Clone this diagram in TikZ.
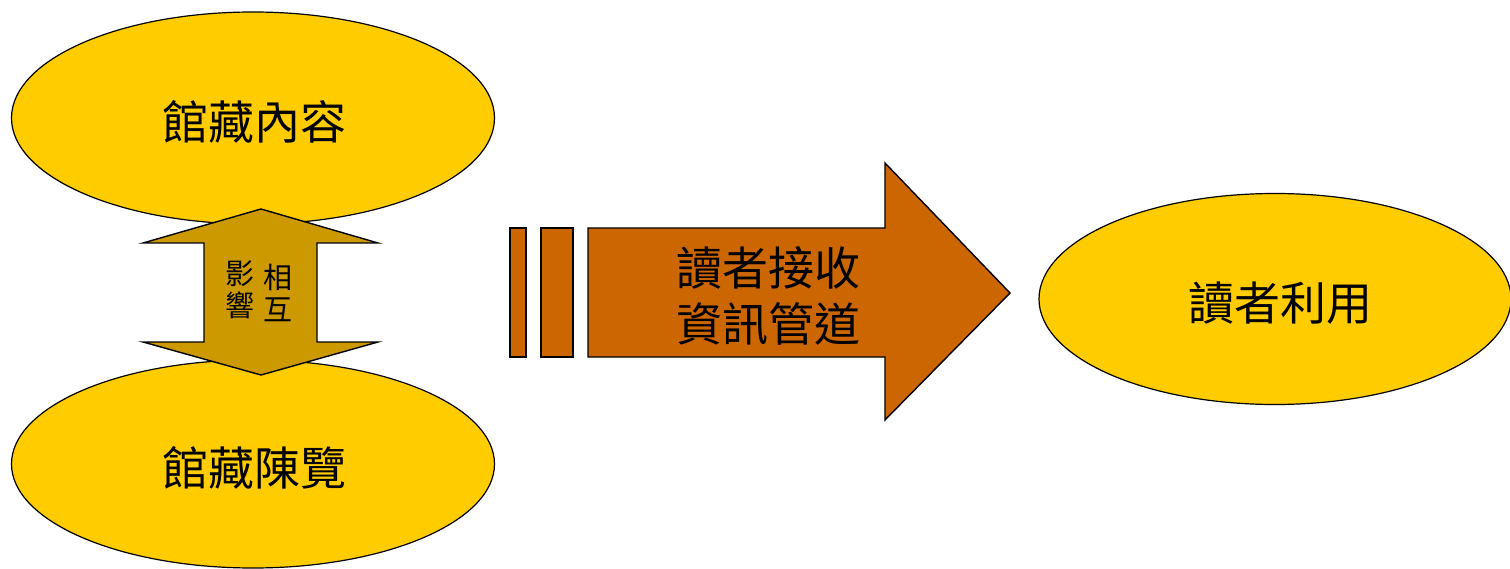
\documentclass[tikz,border=0pt]{standalone}
\usepackage{fontspec}
\newfontfamily\cjk{Noto Sans CJK TC}
\usetikzlibrary{shapes.geometric}
\definecolor{ellfill}{HTML}{FFCC00}
\definecolor{dblfill}{HTML}{CC9900}
\definecolor{arrfill}{HTML}{CC6600}
\begin{document}
\begin{tikzpicture}[x=1pt,y=-1pt,
  ell/.style={ellipse,draw=black,line width=1.2pt,fill=ellfill,inner sep=0pt},
  big/.style={font=\cjk\fontsize{46}{56}\selectfont,inner sep=0pt,align=center},
  small/.style={font=\cjk\fontsize{29}{32}\selectfont,inner sep=0pt,align=center},
  shp/.style={draw=black,line width=1.4pt,line join=miter}]
\useasboundingbox (0,0) rectangle (1510,569);
% ellipses
\node[ell,minimum width=483pt,minimum height=212pt] (top) at (253,118) {};
\node[ell,minimum width=483pt,minimum height=208pt] (bot) at (253,464) {};
\node[ell,minimum width=472pt,minimum height=211pt] (right) at (1275,299) {};
\node[big] (toptxt) at (254,122) {館藏內容};
\node[big] (bottxt) at (254,468) {館藏陳覽};
\node[big] (righttxt) at (1280,303) {讀者利用};
% double arrow
\path[shp,fill=dblfill] (261,209) -- (378,243) -- (317,243) -- (317,342) -- (378,342)
  -- (261,375) -- (143,342) -- (204,342) -- (204,243) -- (143,243) -- cycle;
\node[small] (c1) at (278,293) {相\\互};
\node[small] (c2) at (240,290) {影\\響};
% right arrow
\path[shp,fill=arrfill] (510,228) rectangle (526,357);
\path[shp,fill=arrfill] (541,228) rectangle (573,357);
\path[shp,fill=arrfill] (588,228) -- (885,228) -- (885,163) -- (1010,293) -- (885,420)
  -- (885,357) -- (588,357) -- cycle;
\node[big] (arrtxt) at (768,296) {讀者接收\\資訊管道};
\end{tikzpicture}
\end{document}
